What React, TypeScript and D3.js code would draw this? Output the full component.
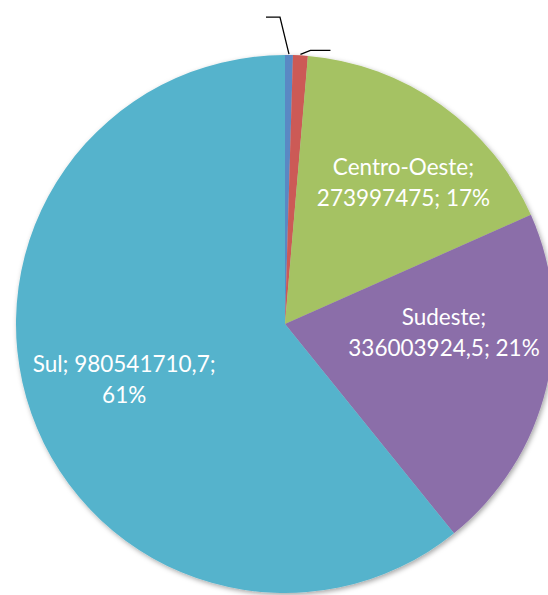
import { useEffect, useRef } from "react";
import * as d3 from "d3";

// regiões e valores
const regions = ["Norte", "Nordeste", "Centro-Oeste", "Sudeste", "Sul"];
const values = [7600000, 14300000, 273997475, 336003924.5, 980541710.7];
const valueLabels = ["7600000", "14300000", "273997475", "336003924,5", "980541710,7"];
const colors = ["#5a88c4", "#cc5a57", "#a5c263", "#8b6ea9", "#55b3cc"];

export default function App() {
  const ref = useRef<SVGSVGElement | null>(null);

  useEffect(() => {
    const width = 548;
    const height = 595;
    const cx = 285;
    const cy = 324;
    const radius = 269;

    const svg = d3.select(ref.current);
    svg.selectAll("*").remove();
    svg.attr("width", width).attr("height", height).attr("viewBox", `0 0 ${width} ${height}`);

    const defs = svg.append("defs");
    const shadow = defs
      .append("filter")
      .attr("id", "pie-shadow")
      .attr("x", "-10%")
      .attr("y", "-10%")
      .attr("width", "120%")
      .attr("height", "120%");
    shadow
      .append("feDropShadow")
      .attr("dx", 1.5)
      .attr("dy", 2)
      .attr("stdDeviation", 2.5)
      .attr("flood-color", "#000")
      .attr("flood-opacity", 0.35);

    const total = d3.sum(values);
    const rows = regions.map((name, i) => ({
      name,
      value: values[i],
      label: valueLabels[i],
      pct: Math.round((values[i] / total) * 100),
      color: colors[i],
    }));

    const pie = d3
      .pie<(typeof rows)[number]>()
      .sort(null)
      .value((d) => d.value);
    const arcs = pie(rows);

    const arc = d3.arc<d3.PieArcDatum<(typeof rows)[number]>>().innerRadius(0).outerRadius(radius);

    const chart = svg.append("g").attr("transform", `translate(${cx},${cy})`);

    chart
      .append("g")
      .attr("filter", "url(#pie-shadow)")
      .selectAll("path")
      .data(arcs)
      .join("path")
      .attr("d", arc)
      .attr("fill", (d) => d.data.color);

    // linhas de chamada das fatias pequenas (rótulos ficam fora do recorte)
    const leaders: Record<string, [number, number, number]> = {
      Norte: [-9, -38, -14],
      Nordeste: [10, -5, 20],
    };
    const edge = d3.arc<d3.PieArcDatum<(typeof rows)[number]>>().innerRadius(radius).outerRadius(radius);
    chart
      .selectAll("path.leader")
      .data(arcs.filter((d) => leaders[d.data.name]))
      .join("path")
      .attr("class", "leader")
      .attr("fill", "none")
      .attr("stroke", "#000")
      .attr("stroke-width", 1.3)
      .attr("d", (d) => {
        const [x, y] = edge.centroid(d);
        const [ex, ey, h] = leaders[d.data.name];
        return d3.line()([
          [x, y - 1],
          [x + ex, y + ey],
          [x + ex + h, y + ey],
        ]);
      });

    // rótulos internos
    const labelArc = d3.arc<d3.PieArcDatum<(typeof rows)[number]>>().innerRadius(0).outerRadius(radius * 1.3);
    const nudge: Record<string, [number, number]> = {
      "Centro-Oeste": [17, -7],
      Sudeste: [-11, -40],
      Sul: [4, -10],
    };
    const lines = (d: (typeof rows)[number]) =>
      d.name === "Sul"
        ? [`${d.name}; ${d.label};`, `${d.pct}%`]
        : [`${d.name};`, `${d.label}; ${d.pct}%`];

    const labels = chart
      .selectAll("text.lbl")
      .data(arcs.filter((d) => nudge[d.data.name]))
      .join("text")
      .attr("class", "lbl")
      .attr("text-anchor", "middle")
      .attr("fill", "#fff")
      .style("font-family", "Lato, 'Open Sans', sans-serif")
      .style("font-size", "22.5px")
      .attr("transform", (d) => {
        const [x, y] = labelArc.centroid(d);
        const [nx, ny] = nudge[d.data.name];
        return `translate(${x + nx},${y + ny})`;
      });

    labels
      .selectAll("tspan")
      .data((d) => lines(d.data))
      .join("tspan")
      .attr("x", 0)
      .attr("y", (_, i) => i * 31)
      .text((t) => t);
  }, []);

  return (
    <svg
      ref={ref}
      style={{ position: "absolute", left: 0, top: 0, background: "#fff" }}
      role="img"
      aria-label="Gráfico de pizza por região"
    />
  );
}
